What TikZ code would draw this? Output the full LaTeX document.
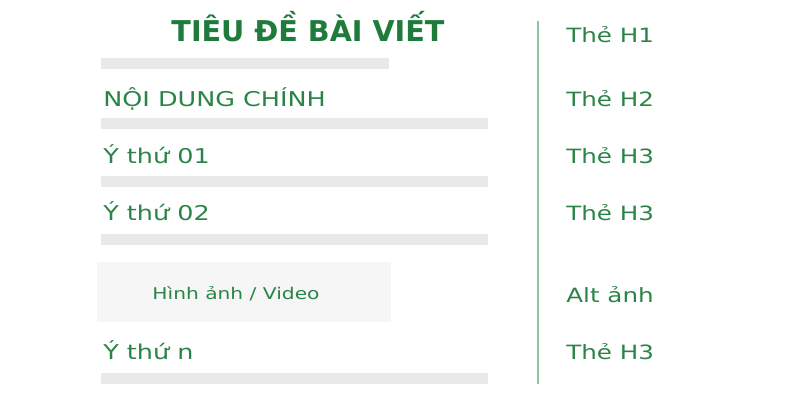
\documentclass[tikz,border=0pt]{standalone}
\usepackage{fontspec}
\setmainfont{DejaVu Sans}
\newfontfamily\widefont[FakeStretch=1.25]{DejaVu Sans}
\usepackage{xcolor}

\definecolor{titlegreen}{HTML}{1E7B3C}
\definecolor{textgreen}{HTML}{2B8447}
\definecolor{linegreen}{HTML}{8CC49E}
\definecolor{bargray}{HTML}{E9E9E9}
\definecolor{boxgray}{HTML}{F6F6F6}

\begin{document}
\begin{tikzpicture}[x=0.02cm, y=-0.02cm]
        % ================= styles =================
        \tikzset{
            % title: bold dark green
            titletext/.style={anchor=base, font=\fontsize{16.3}{18}\selectfont\bfseries, text=titlegreen, inner sep=0pt},
            % left column headings
            headtext/.style={anchor=base west, font=\widefont\fontsize{11.6}{13}\selectfont, text=textgreen, inner sep=0pt},
            % right column tag names
            tagtext/.style={anchor=base west, font=\widefont\fontsize{11.2}{13}\selectfont, text=textgreen, inner sep=0pt},
            % grey placeholder bars
            bar/.style={fill=bargray, draw=none}
        }

        \useasboundingbox (0,0) rectangle (800,402);

        % ================= left column =================
        \node[titletext] (title) at (308,42) {TIÊU ĐỀ BÀI VIẾT};

        % placeholder bars (top, right end)
        \foreach \top/\xend in {58/389, 118/488, 176/488, 234/488, 373/488} {
            \fill[bar] (101,\top) rectangle (\xend,\top+11);
        }

        \node[headtext] (main) at (103,106) {NỘI DUNG CHÍNH};
        \node[headtext] (idea1) at (103,163) {Ý thứ 01};
        \node[headtext] (idea2) at (103,220) {Ý thứ 02};

        % image / video block
        \fill[boxgray] (97,262) rectangle (391,322);
        \node[anchor=base, font=\widefont\fontsize{9.2}{11}\selectfont, text=textgreen, inner sep=0pt] (media) at (236,299) {Hình ảnh / Video};

        \node[headtext] (idean) at (103,359) {Ý thứ n};

        % ================= right column =================
        \coordinate (ltop) at (538,21);
        \coordinate (lbot) at (538,384);
        \draw[linegreen, line width=1.1pt] (ltop) -- (lbot);

        \node[tagtext] (tagh1) at (566,43) {Thẻ H1};
        \node[tagtext] (tagh2) at (566,106) {Thẻ H2};
        \node[tagtext] (tagh3a) at (566,163) {Thẻ H3};
        \node[tagtext] (tagh3b) at (566,220) {Thẻ H3};
        \node[tagtext] (tagalt) at (566,302) {Alt ảnh};
        \node[tagtext] (tagh3c) at (566,359) {Thẻ H3};

    \end{tikzpicture}
\end{document}
